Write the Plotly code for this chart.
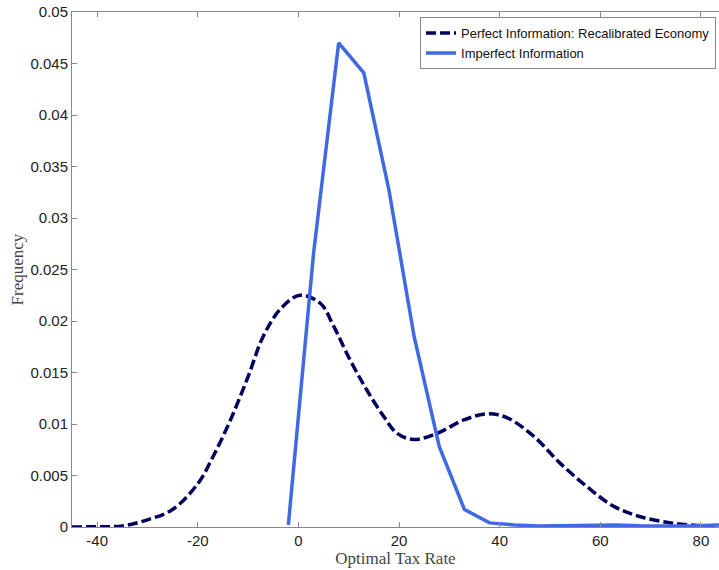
import plotly.graph_objects as go

# Perfect information (recalibrated economy), smooth density
perf_x = [-45, -40, -35, -30, -25, -20, -17, -13.5, -10, -7, -3.5, 0.3, 4.4, 7,
          10.3, 13.6, 17, 19.6, 22.9, 27.6, 32.9, 37.7, 41.5, 46.8, 52, 57.4,
          62.7, 68, 74.6, 80.6, 84]
perf_y = [0, 0.00003, 0.0001, 0.0007, 0.0017, 0.0042, 0.0068, 0.0104, 0.0146,
          0.0185, 0.0212, 0.0225, 0.0217, 0.0195, 0.0162, 0.0133, 0.0107, 0.0091,
          0.0085, 0.0091, 0.0104, 0.0110, 0.0106, 0.0088, 0.0062, 0.0039, 0.0020,
          0.0010, 0.00036, 0.0001, 0.00003]

# Imperfect information
imp_x = [-2, 3, 8, 13, 18, 23, 28, 33, 38, 43, 48, 53, 58, 63, 68, 73, 78, 83, 88]
imp_y = [0.0002, 0.0265, 0.0470, 0.0441, 0.0327, 0.0185, 0.0078, 0.0017, 0.0004,
         0.0002, 0.0001, 0.00015, 0.00015, 0.0002, 0.00012, 0.0001, 0.0001,
         0.0002, 0.0002]

x_ticks = [-40, -20, 0, 20, 40, 60, 80]
x_tick_labels = ["-40", "-20", "0", "20", "40", "60", "80"]
y_ticks = [0, 0.005, 0.01, 0.015, 0.02, 0.025, 0.03, 0.035, 0.04, 0.045, 0.05]
y_tick_labels = ["0", "0.005", "0.01", "0.015", "0.02", "0.025", "0.03",
                 "0.035", "0.04", "0.045", "0.05"]

fig = go.Figure()

fig.add_trace(go.Scatter(
    x=perf_x, y=perf_y,
    mode="lines",
    name="Perfect Information: Recalibrated Economy",
    line=dict(color="#00005e", width=3.5, dash="10px,4px", shape="spline", smoothing=1),
))

fig.add_trace(go.Scatter(
    x=imp_x, y=imp_y,
    mode="lines",
    name="Imperfect Information",
    line=dict(color="#4169e1", width=3.5),
))

axis_font = dict(family="Liberation Sans, Arial, sans-serif", size=15, color="#222")
label_font = dict(family="Liberation Serif, DejaVu Serif, serif", size=17, color="#444")

fig.update_layout(
    width=719, height=570,
    margin=dict(l=72, r=0, t=12, b=43),
    plot_bgcolor="white",
    paper_bgcolor="white",
    showlegend=True,
    legend=dict(
        x=0.9954, xanchor="right", y=0.99, yanchor="top",
        bgcolor="white", bordercolor="#888", borderwidth=1,
        font=dict(family="Liberation Sans, Arial, sans-serif", size=13, color="#111"),
        tracegroupgap=0, itemwidth=30,
    ),
    xaxis=dict(
        range=[-45, 83.6], automargin=False,
        tickvals=x_ticks, ticktext=x_tick_labels,
        showgrid=False, zeroline=False,
        showline=True, linecolor="#888", linewidth=1, mirror="ticks",
        ticks="inside", ticklen=5, tickcolor="#888",
        tickfont=axis_font,
        title=dict(text="Optimal Tax Rate", font=label_font, standoff=1),
    ),
    yaxis=dict(
        range=[0, 0.05], automargin=False,
        tickvals=y_ticks, ticktext=y_tick_labels,
        showgrid=False, zeroline=False,
        showline=True, linecolor="#888", linewidth=1,
        ticks="inside", ticklen=5, tickcolor="#888",
        tickfont=axis_font,
        title=dict(text="Frequency", font=label_font, standoff=2),
    ),
)

# the page has a default 8px body margin; drop it so the figure sits at 0,0
fig.write_html(
    "out.html",
    config={"displayModeBar": False},
    post_script="document.body.style.margin='0';document.body.style.overflow='hidden';",
)
